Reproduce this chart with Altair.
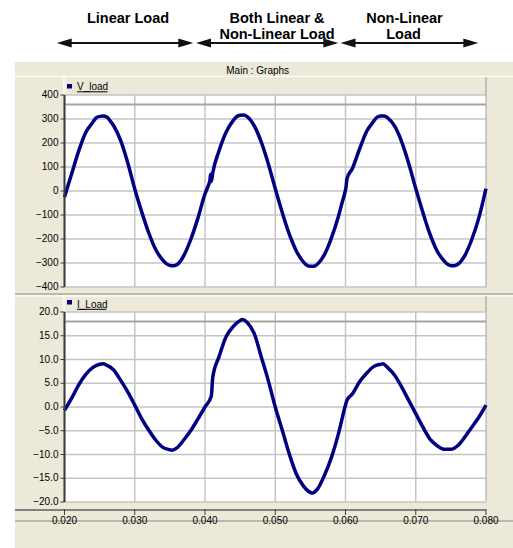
import altair as alt
import pandas as pd

# ---------------- data ----------------
t_v = [0.020, 0.021, 0.022, 0.023, 0.024, 0.0245, 0.025, 0.0255, 0.026, 0.0265, 0.027, 0.028, 0.029, 0.030,
       0.031, 0.032, 0.033, 0.034, 0.0345, 0.035, 0.0355, 0.036, 0.0365, 0.037, 0.038, 0.039, 0.040,
       0.0405, 0.0407, 0.0408, 0.0409, 0.0411, 0.042, 0.043, 0.044, 0.0445, 0.045, 0.0455, 0.046, 0.0465,
       0.047, 0.048, 0.049, 0.050, 0.051, 0.052, 0.053, 0.054, 0.0545, 0.055, 0.0555, 0.056, 0.057, 0.058,
       0.059, 0.0595, 0.060, 0.0601, 0.0602, 0.061, 0.062, 0.063, 0.064, 0.0645, 0.065, 0.0655, 0.066,
       0.067, 0.068, 0.069, 0.070, 0.071, 0.072, 0.073, 0.074, 0.0745, 0.075, 0.0755, 0.076, 0.077, 0.078,
       0.079, 0.080]
v_load = [-25, 70, 165, 243, 285, 305, 311, 312, 309, 292, 272, 210, 118, 8,
          -88, -175, -245, -288, -303, -310, -311, -307, -292, -268, -200, -112, -12,
          25, 45, 70, 40, 75, 168, 245, 293, 310, 316, 317, 310, 295,
          272, 205, 115, 10, -90, -180, -250, -295, -309, -314, -314, -305, -265, -195,
          -105, -50, 5, 22, 50, 95, 175, 248, 290, 308, 313, 313, 305,
          270, 205, 115, 10, -88, -178, -248, -290, -305, -311, -311, -305, -268, -200,
          -110, 10]

t_i = [0.020, 0.021, 0.022, 0.023, 0.024, 0.025, 0.0255, 0.026, 0.027, 0.028, 0.029, 0.030, 0.031, 0.032,
       0.033, 0.034, 0.035, 0.0353, 0.036, 0.037, 0.038, 0.039, 0.040, 0.0409, 0.0411, 0.042, 0.043, 0.044,
       0.045, 0.0453, 0.046, 0.047, 0.048, 0.049, 0.050, 0.051, 0.052, 0.053, 0.054, 0.055, 0.0553, 0.056,
       0.057, 0.058, 0.059, 0.060, 0.0602, 0.061, 0.062, 0.063, 0.064, 0.065, 0.0653, 0.066, 0.067, 0.068,
       0.069, 0.070, 0.071, 0.072, 0.073, 0.074, 0.075, 0.076, 0.077, 0.078, 0.079, 0.080]
i_load = [-0.7, 1.8, 4.6, 6.8, 8.3, 9.0, 9.1, 8.8, 7.8, 5.6, 3.2, 0.4, -2.5, -4.9,
          -7.0, -8.5, -9.0, -9.1, -8.6, -6.9, -4.9, -2.5, 0.0, 2.3, 6.2, 10.6, 14.8, 16.9,
          18.2, 18.4, 17.8, 15.5, 10.6, 5.6, 0.0, -4.9, -9.9, -14.1, -16.6, -18.0, -18.1, -17.3,
          -14.4, -10.6, -5.6, 0.4, 1.4, 2.8, 5.3, 7.1, 8.5, 9.0, 9.1, 8.3, 6.7, 4.2,
          1.4, -1.4, -4.2, -6.7, -8.1, -8.9, -8.9, -8.1, -6.3, -4.2, -2.1, 0.4]

x_ticks = [0.020, 0.030, 0.040, 0.050, 0.060, 0.070, 0.080]
v_ticks = [-400, -300, -200, -100, 0, 100, 200, 300, 400]
i_ticks = [-20.0, -15.0, -10.0, -5.0, 0.0, 5.0, 10.0, 15.0, 20.0]
v_marker = [360]
i_marker = [18.0]

series_names = ["V_load", "I_Load"]
window_title = "Main : Graphs"
annotations = [["Linear Load"], ["Both Linear &", "Non-Linear Load"], ["Non-Linear", "Load"]]

df_v = pd.DataFrame({"t": t_v, "v": v_load})
df_i = pd.DataFrame({"t": t_i, "v": i_load})
df_x = pd.DataFrame({"t": x_ticks})
df_vm = pd.DataFrame({"v": v_marker})
df_im = pd.DataFrame({"v": i_marker})
one = pd.DataFrame({"k": [0]})

# ---------------- layout / style ----------------
W, H = 513, 548
X0, X1 = 64.5, 486
VT, VB = 95, 287
IT, IB = 312, 502
XAX_Y = 510
BEIGE = "#ECE9D8"
GRID = "#C4C4C4"
NAVY = "#000080"
AXC = "#3a3a3a"
FONT = "Liberation Sans"

xscale = alt.Scale(domain=[0.02, 0.08], range=[X0, X1], nice=False, zero=False)
vscale = alt.Scale(domain=[-400, 400], range=[VB, VT], nice=False, zero=False)
iscale = alt.Scale(domain=[-20, 20], range=[IB, IT], nice=False, zero=False)


def rect(x, x2, y, y2, fill):
    return alt.Chart(one).mark_rect(fill=fill, strokeWidth=0).encode(
        x=alt.value(x), x2=alt.value(x2), y=alt.value(y), y2=alt.value(y2))


def hline(x, x2, y, color, w):
    return alt.Chart(one).mark_rule(color=color, strokeWidth=w).encode(
        x=alt.value(x), x2=alt.value(x2), y=alt.value(y))


def vline(x, y, y2, color, w):
    return alt.Chart(one).mark_rule(color=color, strokeWidth=w).encode(
        x=alt.value(x), y=alt.value(y), y2=alt.value(y2))


def text(s, x, y, size=10, bold=False, align="center"):
    return alt.Chart(one).mark_text(
        text=s, font=FONT, fontSize=size, fontWeight="bold" if bold else "normal",
        align=align, baseline="alphabetic", color="#000000").encode(
        x=alt.value(x), y=alt.value(y))


def head(xc, y, left):
    path = "M -1 0 L 1 -0.6 L 1 0.6 Z" if left else "M 1 0 L -1 -0.6 L -1 0.6 Z"
    return alt.Chart(one).mark_point(shape=path, filled=True, size=225, color="#111111",
                                     opacity=1, strokeWidth=0).encode(
        x=alt.value(xc), y=alt.value(y))


def arrow(xa, xb, y):
    return [hline(xa + 6, xb - 6, y, "#111111", 2.2), head(xa + 7.5, y, True), head(xb - 7.5, y, False)]


def panel(df, scale, ticks, marker, fmt):
    lo, hi = ticks[0], ticks[-1]
    tdf = pd.DataFrame({"v": ticks})
    bg = alt.Chart(one).mark_rect(fill="white", strokeWidth=0).encode(
        x=alt.XDatum(0.02, axis=None), x2=alt.X2Datum(0.08),
        y=alt.YDatum(lo, axis=None), y2=alt.Y2Datum(hi))
    hgrid = alt.Chart(tdf).mark_rule(color=GRID, strokeWidth=1.5).encode(
        y=alt.Y("v:Q", axis=None), x=alt.XDatum(0.02, axis=None), x2=alt.X2Datum(0.08))
    vgrid = alt.Chart(df_x).mark_rule(color=GRID, strokeWidth=1.5).encode(
        x=alt.X("t:Q", axis=None), y=alt.YDatum(lo, axis=None), y2=alt.Y2Datum(hi))
    mk = alt.Chart(marker).mark_rule(color="#A8A498", strokeWidth=2).encode(
        y=alt.Y("v:Q", axis=None), x=alt.XDatum(0.02, axis=None), x2=alt.X2Datum(0.08))
    line = alt.Chart(df).mark_line(color=NAVY, strokeWidth=3.5, interpolate="monotone").encode(
        x=alt.X("t:Q", scale=xscale, axis=None),
        y=alt.Y("v:Q", scale=scale, axis=None))
    # y axis drawn from the tick list through the panel's y scale
    dom = alt.Chart(one).mark_rule(color=AXC, strokeWidth=2).encode(
        x=alt.value(X0), y=alt.YDatum(lo, axis=None), y2=alt.Y2Datum(hi))
    tks = alt.Chart(tdf).mark_rule(color=AXC, strokeWidth=1).encode(
        x=alt.value(X0 - 4), x2=alt.value(X0), y=alt.Y("v:Q", axis=None))
    lbl = alt.Chart(tdf).mark_text(font=FONT, fontSize=10, align="right", baseline="middle",
                                   color="#000000").encode(
        x=alt.value(X0 - 6), y=alt.Y("v:Q", axis=None), text=alt.Text("v:Q", format=fmt))
    return alt.layer(bg, hgrid, vgrid, mk, line, dom, tks, lbl)


frame = [
    rect(15, W, 62, H, BEIGE),
    hline(15, W, 76.5, "white", 1.2),
    vline(64, 77, VT, "white", 1.2),
    vline(X1, 77, VB, "#A0A0A0", 1.2),
    hline(15, W, 294, "#A8A8A0", 1.5),
    hline(15, W, 295.8, "white", 1.2),
    vline(64, 296, IT, "white", 1.2),
    vline(X1, 296, IB, "#A0A0A0", 1.2),
    hline(15, X1, XAX_Y, "#808080", 2),
    hline(15, W, 521, "#A8A8A0", 1.5),
]

top = panel(df_v, vscale, v_ticks, df_vm, "d")
bottom = panel(df_i, iscale, i_ticks, df_im, ".1f")

# x axis drawn from the tick list through the shared x scale
xticks = alt.Chart(df_x).mark_rule(color="#404040", strokeWidth=1).encode(
    x=alt.X("t:Q", axis=None), y=alt.value(XAX_Y - 1), y2=alt.value(XAX_Y + 5))
xlabels = alt.Chart(df_x).mark_text(font=FONT, fontSize=10, align="center", baseline="middle",
                                    color="#000000").encode(
    x=alt.X("t:Q", axis=None), y=alt.value(521), text=alt.Text("t:Q", format=".3f"))

legend = [
    rect(67, 72, 84, 88.5, NAVY),
    text(series_names[0], 77, 90, 10, False, "left"),
    hline(77, 107.5, 91.8, "#000000", 1),
    rect(67, 72, 300, 304.5, NAVY),
    text(series_names[1], 77, 307.5, 10, False, "left"),
    hline(77, 106.5, 309.3, "#000000", 1),
    text(window_title, 257.7, 74, 10),
]

notes = [
    text(annotations[0][0], 128, 23, 14.5, True),
    text(annotations[1][0], 277, 23, 14.5, True),
    text(annotations[1][1], 277, 39, 14.5, True),
    text(annotations[2][0], 404.5, 23, 14.5, True),
    text(annotations[2][1], 403.5, 39, 14.5, True),
]
notes += arrow(56.7, 193.3, 43) + arrow(196, 338.3, 43) + arrow(340.5, 478.3, 43)

chart = alt.layer(*frame, top, bottom, xticks, xlabels, *legend, *notes).resolve_scale(
    y="independent").properties(
    width=W, height=H, padding=0, autosize=alt.AutoSizeParams(type="none"),
    background="white"
).configure_view(strokeWidth=0)

chart.save("out.html", embed_options={"renderer": "svg", "actions": False})
